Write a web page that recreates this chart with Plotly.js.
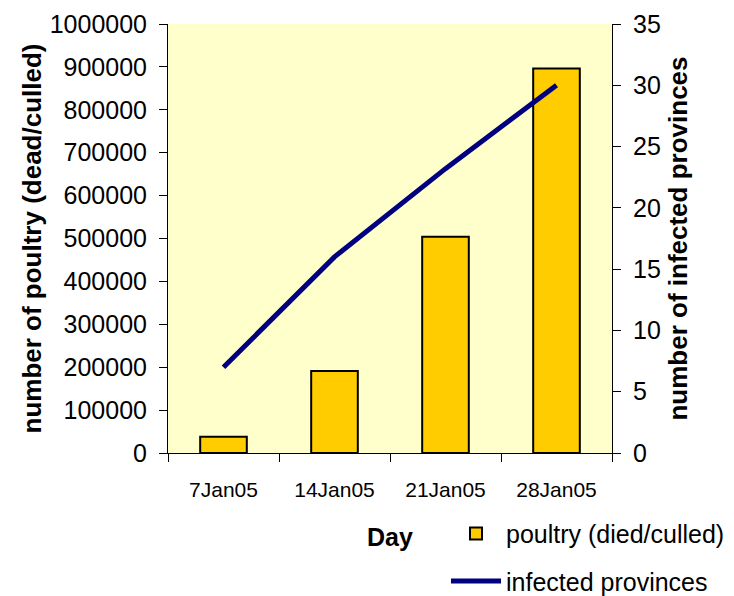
<!DOCTYPE html>
<html>
<head>
<meta charset="utf-8">
<script src="https://cdn.plot.ly/plotly-3.0.1.min.js"></script>
<style>html,body{margin:0;padding:0;background:#fff;}#chart{width:734px;height:596px;}</style>
</head>
<body>
<div id="chart"></div>
<script>
const days = ["7Jan05", "14Jan05", "21Jan05", "28Jan05"];
const poultry = [38000, 191000, 504000, 896000];
const provinces = [7, 16, 23.2, 30];
const leftTicks = [0, 100000, 200000, 300000, 400000, 500000, 600000, 700000, 800000, 900000, 1000000];
const rightTicks = [0, 5, 10, 15, 20, 25, 30, 35];

const FONT = "Liberation Sans, Arial, sans-serif";

const traces = [
  {
    type: "bar",
    x: days,
    y: poultry,
    name: "poultry (died/culled)",
    legendgroup: "a",
    width: 0.42,
    marker: {color: "#FFCC00", line: {color: "#000000", width: 2}},
    yaxis: "y"
  },
  {
    type: "scatter",
    mode: "lines",
    x: days,
    y: provinces,
    name: "infected provinces",
    legendgroup: "b",
    line: {color: "#000080", width: 5},
    yaxis: "y2"
  }
];

const layout = {
  width: 734,
  height: 596,
  margin: {l: 168, r: 122, t: 24, b: 143, autoexpand: false},
  paper_bgcolor: "#FFFFFF",
  plot_bgcolor: "#FFFFCC",
  font: {family: FONT, color: "#000000"},
  showlegend: true,
  legend: {
    x: 0.6261, xanchor: "left",
    y: -0.1347, yanchor: "top",
    font: {size: 25, family: FONT, color: "#000"},
    traceorder: "grouped",
    tracegroupgap: 12,
    itemwidth: 50,
    bgcolor: "rgba(0,0,0,0)"
  },
  xaxis: {
    type: "category",
    tickson: "boundaries",
    ticks: "outside",
    ticklen: 8,
    tickcolor: "#000",
    ticklabelstandoff: 18,
    tickangle: 0,
    showline: true,
    linecolor: "#000",
    linewidth: 1,
    showgrid: false,
    tickfont: {size: 21, family: FONT},
    title: {text: "<b>Day</b>", font: {size: 25, family: FONT}, standoff: 28},
    automargin: false
  },
  yaxis: {
    range: [0, 1000000],
    tickvals: leftTicks,
    ticktext: leftTicks.map(String),
    ticks: "outside",
    ticklen: 8,
    tickcolor: "#000",
    ticklabelstandoff: 7,
    showline: true,
    linecolor: "#000",
    showgrid: false,
    zeroline: false,
    tickfont: {size: 25, family: FONT},
    title: {text: "<b>number of poultry (dead/culled)</b>", font: {size: 26, family: FONT}, standoff: 0},
    automargin: false
  },
  yaxis2: {
    overlaying: "y",
    side: "right",
    range: [0, 35],
    tickvals: rightTicks,
    ticks: "outside",
    ticklen: 8,
    tickcolor: "#000",
    ticklabelstandoff: 7,
    showline: true,
    linecolor: "#000",
    showgrid: false,
    zeroline: false,
    tickfont: {size: 25, family: FONT},
    title: {text: "<b>number of infected provinces</b>", font: {size: 26, family: FONT}},
    automargin: false
  },
  yaxis3: {
    overlaying: "y",
    side: "left",
    range: [0, 1000000],
    tickvals: leftTicks,
    showticklabels: false,
    ticks: "inside",
    ticklen: 7,
    tickcolor: "#000",
    showline: false,
    showgrid: false,
    zeroline: false
  },
  yaxis4: {
    overlaying: "y",
    side: "right",
    range: [0, 35],
    tickvals: rightTicks,
    showticklabels: false,
    ticks: "inside",
    ticklen: 7,
    tickcolor: "#000",
    showline: false,
    showgrid: false,
    zeroline: false
  }
};

Plotly.newPlot("chart", traces, layout, {displayModeBar: false, staticPlot: true});
</script>
</body>
</html>
